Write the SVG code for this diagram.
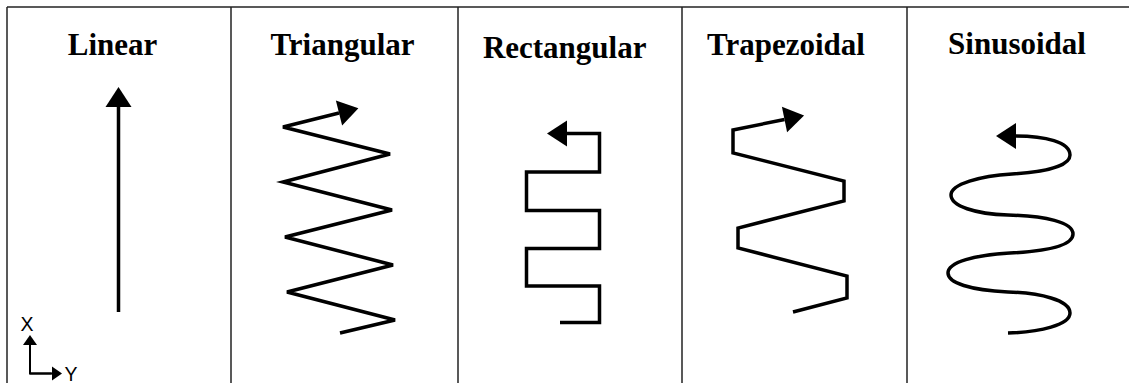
<svg xmlns="http://www.w3.org/2000/svg" width="1129" height="383" viewBox="0 0 1129 383">
<style>
.title{font-family:"Liberation Serif","Times New Roman",serif;font-weight:bold;font-size:31px;fill:#000;text-anchor:middle}
.frame{stroke:#222;stroke-width:1.5;fill:none}
.path{stroke:#000;stroke-width:3.5;fill:none;stroke-linejoin:miter;stroke-linecap:butt}
.axis{stroke:#000;stroke-width:2;fill:none}
.ax{font-family:"Liberation Sans",Arial,sans-serif;font-size:19.5px;fill:#000;text-anchor:middle}
</style>
<defs>
<marker id="ah" markerUnits="userSpaceOnUse" markerWidth="20" markerHeight="26" refX="0" refY="13" orient="auto" overflow="visible">
<path d="M0,0 L20,13 L0,26 z" fill="#000"/>
</marker>
<marker id="ahs" markerUnits="userSpaceOnUse" markerWidth="11" markerHeight="14" refX="0" refY="7" orient="auto" overflow="visible">
<path d="M0,0 L10,7 L0,14 z" fill="#000"/>
</marker>
</defs>
<rect width="1129" height="383" fill="#fff"/>
<g id="frame">
<line class="frame" x1="7" y1="7" x2="1129" y2="7"/>
<line class="frame" x1="7" y1="7" x2="7" y2="383"/>
<line class="frame" x1="231" y1="7" x2="231" y2="383"/>
<line class="frame" x1="458" y1="7" x2="458" y2="383"/>
<line class="frame" x1="682" y1="7" x2="682" y2="383"/>
<line class="frame" x1="907" y1="7" x2="907" y2="383"/>
</g>
<g id="linear">
<text class="title" x="112.5" y="55">Linear</text>
<path class="path" d="M118.5,312 L118.5,107" marker-end="url(#ah)"/>
</g>
<g id="axes">
<text class="ax" x="27" y="331">X</text>
<path class="axis" d="M51.5,373.5 L30,373.5 L30,345" marker-end="url(#ahs)"/>
<path class="axis" d="M30,373.5 L52,373.5" marker-end="url(#ahs)"/>
<text class="ax" x="71" y="381">Y</text>
</g>
<g id="triangular">
<text class="title" x="342.5" y="55">Triangular</text>
<path class="path" d="M340,333 L395,320 L287,292 L393,265 L285,237 L392,210 L283,182 L390,154 L283,127 L339,113" marker-end="url(#ah)"/>
</g>
<g id="rectangular">
<text class="title" x="564.7" y="58">Rectangular</text>
<path class="path" d="M560,322.5 L599.5,322.5 L599.5,286 L526.5,286 L526.5,248.5 L599.5,248.5 L599.5,210.5 L526.5,210.5 L526.5,172 L599.5,172 L599.5,133.5 L567,133.5" marker-end="url(#ah)"/>
</g>
<g id="trapezoidal">
<text class="title" x="786" y="55">Trapezoidal</text>
<path class="path" d="M793,312 L847,298 L847,276 L738,248 L738,228 L844,201 L844,181 L733,153 L733,130 L784.5,119.5" marker-end="url(#ah)"/>
</g>
<g id="sinusoidal">
<text class="title" x="1017" y="54">Sinusoidal</text>
<path class="path" d="M1008,333 C1040,332 1070,325 1070,313 C1070,300 1040,293 1008,292 C970,290 948,283 948,273 C948,262 975,255 1010,253 C1050,251 1073,245 1073,234 C1073,222 1045,216 1008,215 C975,214 951,206 951,195 C951,184 980,176 1012,174 C1045,172 1070,166 1070,155 C1070,142 1045,136 1016,136" marker-end="url(#ah)"/>
</g>
</svg>
